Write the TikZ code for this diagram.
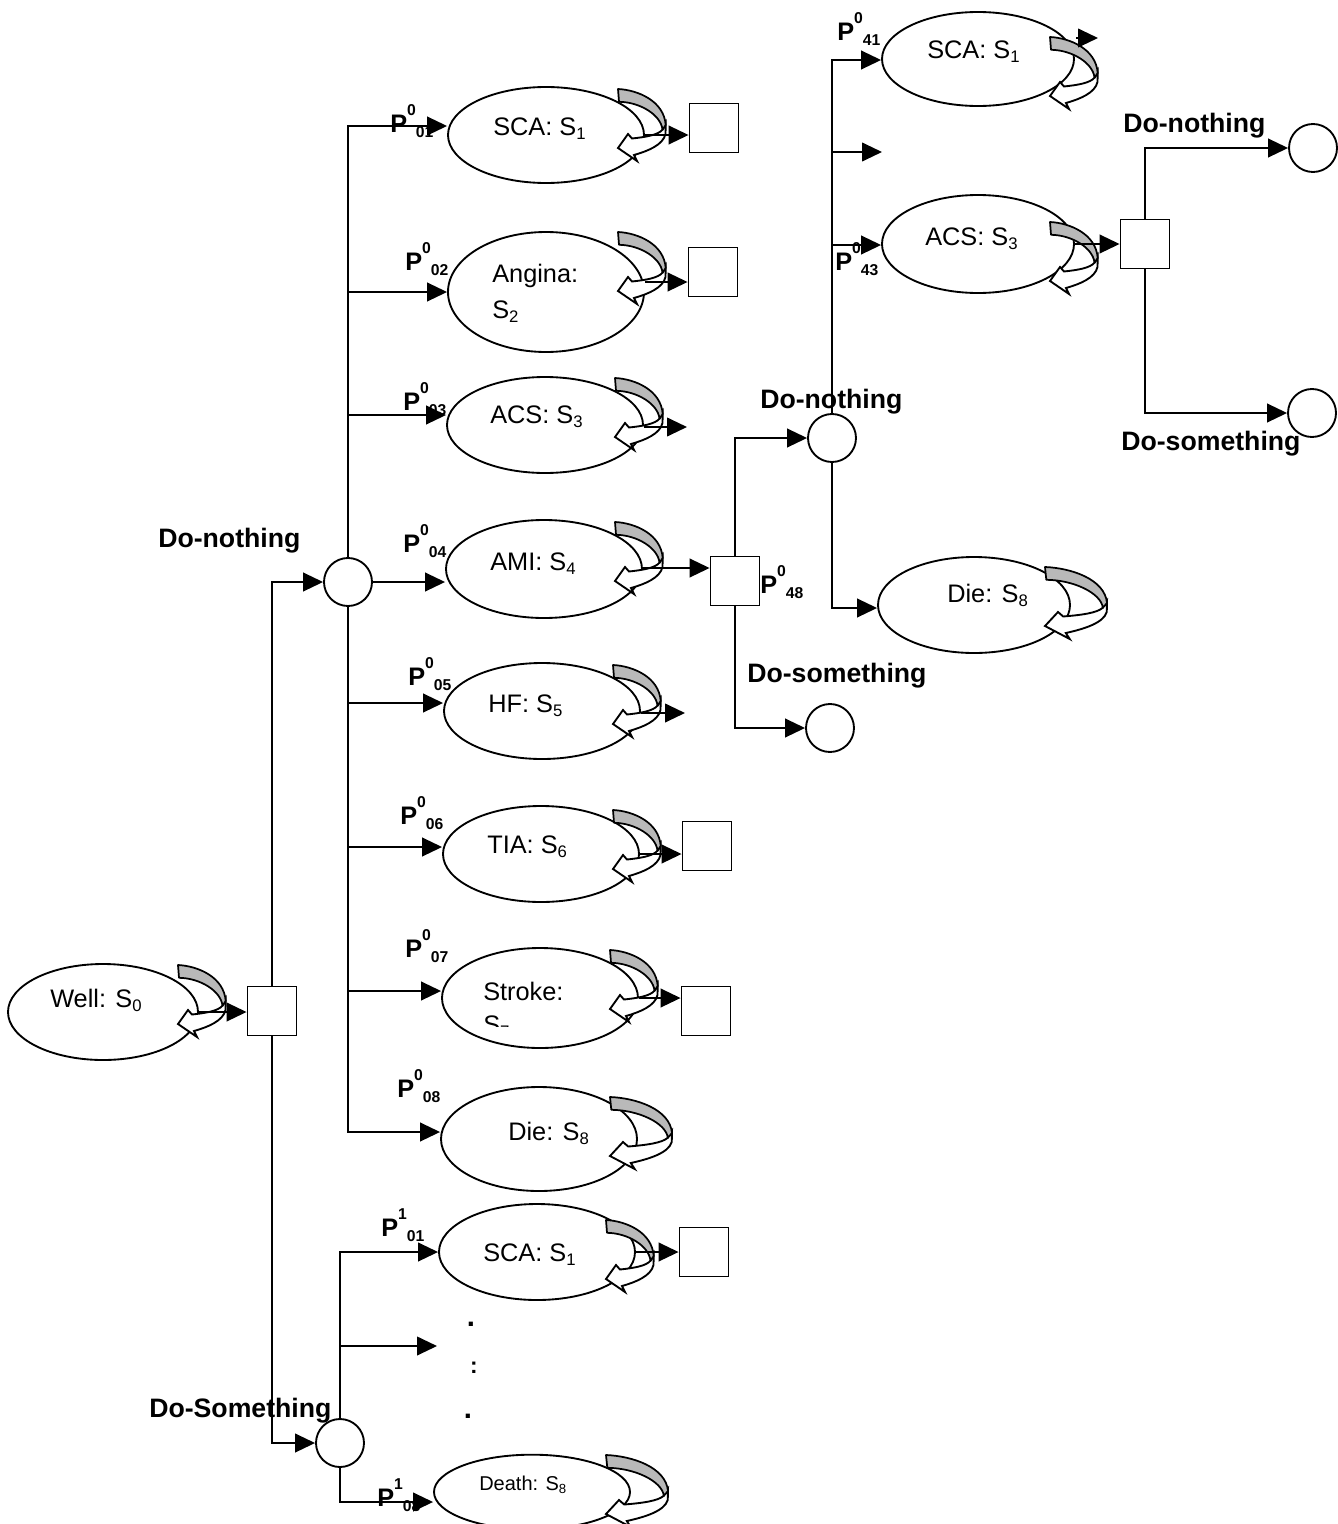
\documentclass[tikz,border=0pt]{standalone}
\usepackage{fontspec}
\setmainfont{Liberation Sans}
\usetikzlibrary{arrows.meta,shapes.geometric}

% lowered index, as in S_1
\newcommand\lowidx[1]{\raisebox{-0.19em}{\scalebox{0.66}{#1}}}
% transition probability label P^a_bc written in sequence
\newcommand\plab[2]{P\raisebox{0.66em}{\scalebox{0.62}{#1}}\raisebox{-0.2em}{\scalebox{0.62}{#2}}}

\tikzset{
  arr/.style={line width=1.5pt,-{Triangle[length=15pt,width=14pt]}},
  ell/.style={ellipse,draw,line width=1.4pt,inner sep=0pt,minimum width=147pt,minimum height=72pt},
  box/.style={rectangle,draw,line width=1.4pt,inner sep=0pt,minimum size=36.75pt},
  chance/.style={circle,draw,line width=1.4pt,inner sep=0pt,minimum size=36pt},
  lbl/.style={inner sep=0pt,anchor=base west,font=\fontsize{19}{22}\selectfont},
  act/.style={inner sep=0pt,anchor=base west,font=\fontsize{20}{23}\selectfont\bfseries},
  prob/.style={inner sep=0pt,anchor=base west,font=\fontsize{19}{22}\selectfont\bfseries},
  dotlbl/.style={inner sep=0pt,anchor=base,font=\fontsize{22}{24}\selectfont\bfseries},
  selfloop/.pic={
    % front of the ribbon, ending in a hollow head
    \draw[fill=white,line width=1.4pt,line join=miter]
      (47.7,34) -- (47.5,45) .. controls (45,56) and (30,62) .. (16,66)
      -- (19,72) -- (0,59) -- (10,45) -- (14,49.5)
      .. controls (28,48) and (40,46) .. (44.5,40.7) -- cycle;
    % shaded back of the ribbon
    \draw[fill=gray!55,line width=1.3pt,line join=round]
      (0,0) .. controls (20,1) and (46,12) .. (47.7,36)
      -- (44.5,40.7) .. controls (43,26) and (22,13) .. (1,12.8) -- cycle;
  }
}

\begin{document}
\begin{tikzpicture}[x=0.75pt,y=-0.75pt]
\fill[white] (0,0) rectangle (1338,1524);
\useasboundingbox (0,0) rectangle (1338,1524);

% ---------- states, decisions and chance nodes ----------
\node[ell,minimum width=142.5pt] (e0) at (103,1012) {};
\node[box] (s0) at (272,1011) {};
\node[chance] (cN) at (348,582) {};
\node[chance] (cS) at (340,1443) {};

\node[ell] (e1) at (546,135) {};
\node[ell,minimum height=90pt] (e2) at (546,292) {};
\node[ell] (e3) at (545,425) {};
\node[ell,minimum height=73.5pt] (e4) at (544,569) {};
\node[ell] (e5) at (542,711) {};
\node[ell] (e6) at (541,854) {};
\node[ell,minimum height=75pt] (e7) at (540,998) {};
\node[ell,minimum height=78pt] (e8) at (539,1139) {};
\node[ell] (f1) at (537,1252) {};
\node[ell,minimum height=56pt] (f8) at (532,1492) {};

\node[box] (s1) at (714,128) {};
\node[box] (s2) at (713,272) {};
\node[box] (s4) at (735,581) {};
\node[box] (s6) at (707,846) {};
\node[box] (s7) at (706,1011) {};
\node[box] (t1) at (704,1252) {};

\node[chance] (cM) at (832,438) {};
\node[chance] (cD) at (830,728) {};
\node[ell,minimum width=144pt,minimum height=70.5pt] (g1) at (978,59) {};
\node[ell,minimum width=144pt,minimum height=73.5pt] (g3) at (978,244) {};
\node[ell,minimum width=144pt] (g8) at (974,605) {};
\node[box] (sR) at (1145,244) {};
\node[chance] (cR1) at (1313,148) {};
\node[chance] (cR2) at (1312,413) {};

% ---------- self loops ----------
\pic at (178,965) {selfloop};
\pic at (618,89) {selfloop};
\pic at (618,232) {selfloop};
\pic at (615,378) {selfloop};
\pic at (615,522) {selfloop};
\pic at (613,665) {selfloop};
\pic at (613,810) {selfloop};
\pic at (610,950) {selfloop};
\pic[xscale=1.3] at (610,1097) {selfloop};
\pic at (606,1220) {selfloop};
\pic[xscale=1.3] at (606,1455) {selfloop};
\pic at (1050,37) {selfloop};
\pic at (1050,222) {selfloop};
\pic[xscale=1.3] at (1045,567) {selfloop};

% ---------- state names ----------
\node[lbl] (w0) at (50,1007) {Well: S\lowidx{0}};
\node[lbl] (w1) at (493,135) {SCA: S\lowidx{1}};
\node[lbl] (w2a) at (492,282) {Angina:};
\node[lbl] (w2b) at (492,318) {S\lowidx{2}};
\node[lbl] (w3) at (490,423) {ACS: S\lowidx{3}};
\node[lbl] (w4) at (490,570) {AMI: S\lowidx{4}};
\node[lbl] (w5) at (488,712) {HF: S\lowidx{5}};
\node[lbl] (w6) at (487,853) {TIA: S\lowidx{6}};
\node[lbl] (w7a) at (483,1000) {Stroke:};
\begin{scope}
  \clip (470,1003) rectangle (560,1026);
  \node[lbl] (w7b) at (483,1033) {S\lowidx{7}};
\end{scope}
\node[lbl] (w8) at (508,1140) {Die: S\lowidx{8}};
\node[lbl] (v1) at (483,1261) {SCA: S\lowidx{1}};
\node[lbl,font=\fontsize{15}{18}\selectfont] (v8) at (479,1490) {Death: S\lowidx{8}};
\node[lbl] (x1) at (927,58) {SCA: S\lowidx{1}};
\node[lbl] (x3) at (925,245) {ACS: S\lowidx{3}};
\node[lbl] (x8) at (947,602) {Die: S\lowidx{8}};

% ---------- actions ----------
\node[act] (aN) at (158,547) {Do-nothing};
\node[act] (aS) at (149,1417) {Do-Something};
\node[act] (aM) at (760,408) {Do-nothing};
\node[act] (aD) at (747,682) {Do-something};
\node[act] (aR1) at (1123,132) {Do-nothing};
\node[act] (aR2) at (1121,450) {Do-something};

% ---------- transition probabilities ----------
\node[prob] (p01) at (390,132) {\plab{0}{01}};
\node[prob] (p02) at (405,270) {\plab{0}{02}};
\node[prob] (p03) at (403,410) {\plab{0}{03}};
\node[prob] (p04) at (403,552) {\plab{0}{04}};
\node[prob] (p05) at (408,685) {\plab{0}{05}};
\node[prob] (p06) at (400,824) {\plab{0}{06}};
\node[prob] (p07) at (405,957) {\plab{0}{07}};
\node[prob] (p08) at (397,1097) {\plab{0}{08}};
\node[prob] (q01) at (381,1236) {\plab{1}{01}};
\node[prob] (q08) at (377,1506) {\plab{1}{08}};
\node[prob] (p41) at (837,40) {\plab{0}{41}};
\node[prob] (p43) at (835,270) {\plab{0}{43}};
\node[prob] (p48) at (760,593) {\plab{0}{48}};

% ellipsis between the lower branches
\node[dotlbl] (d1) at (471,1326) {.};
\node[dotlbl,font=\fontsize{17}{20}\selectfont\bfseries] (d2) at (474,1373) {:};
\node[dotlbl] (d3) at (468,1418) {.};

% ---------- row heights and free ends ----------
\coordinate (r1) at (0,126);
\coordinate (r2) at (0,292);
\coordinate (r3) at (0,415);
\coordinate (r5) at (0,703);
\coordinate (r6) at (0,847);
\coordinate (r7) at (0,991);
\coordinate (r8) at (0,1132);
\coordinate (r9) at (0,1346);
\coordinate (r10) at (0,1502);
\coordinate (r11) at (0,60);
\coordinate (r12) at (0,152);
\coordinate (r13) at (0,245);
\coordinate (r14) at (0,608);
\coordinate (q2) at (0,282);
\coordinate (q3) at (687,427);
\coordinate (q4) at (0,568);
\coordinate (q5) at (685,713);
\coordinate (q9) at (437,1346);
\coordinate (q12) at (882,152);
\coordinate (k1) at (1076,38);
\coordinate (k2) at (1098,38);

% ---------- connectors ----------
\draw[arr] (e0.east) -- (e0.east -| s0.west);
\draw[arr] (s0.north) |- (cN.west);
\draw[arr] (s0.south) |- (cS.west);

\draw[arr] (cN.north) |- (e1.west |- r1);
\draw[arr] (cN |- r2) -- (e2.west |- r2);
\draw[arr] (cN |- r3) -- (e3.west |- r3);
\draw[arr] (cN.east) -- (cN.east -| e4.west);
\draw[arr] (cN |- r5) -- (e5.west |- r5);
\draw[arr] (cN |- r6) -- (e6.west |- r6);
\draw[arr] (cN |- r7) -- (e7.west |- r7);
\draw[arr] (cN.south) |- (e8.west |- r8);

\draw[arr] (e1.east) -- (e1.east -| s1.west);
\draw[arr] (e2.east |- q2) -- (s2.west |- q2);
\draw[arr] (e3.east |- q3) -- (q3);
\draw[arr] (e4.east |- q4) -- (s4.west |- q4);
\draw[arr] (e5.east |- q5) -- (q5);
\draw[arr] (e6.east) -- (e6.east -| s6.west);
\draw[arr] (e7.east) -- (e7.east -| s7.west);

\draw[arr] (cS.north) |- (f1.west);
\draw[arr] (cS |- r9) -- (q9);
\draw[arr] (cS.south) |- (f8.west |- r10);
\draw[arr] (f1.east) -- (f1.east -| t1.west);

\draw[arr] (s4.north) |- (cM.west);
\draw[arr] (s4.south) |- (cD.west);
\draw[arr] (cM.north) |- (g1.west |- r11);
\draw[arr] (cM |- r12) -- (q12);
\draw[arr] (cM |- r13) -- (g3.west |- r13);
\draw[arr] (cM.south) |- (g8.west |- r14);
\draw[arr] (k1) -- (k2);

\draw[arr] (g3.east) -- (g3.east -| sR.west);
\draw[arr] (sR.north) |- (cR1.west);
\draw[arr] (sR.south) |- (cR2.west);
\end{tikzpicture}
\end{document}
